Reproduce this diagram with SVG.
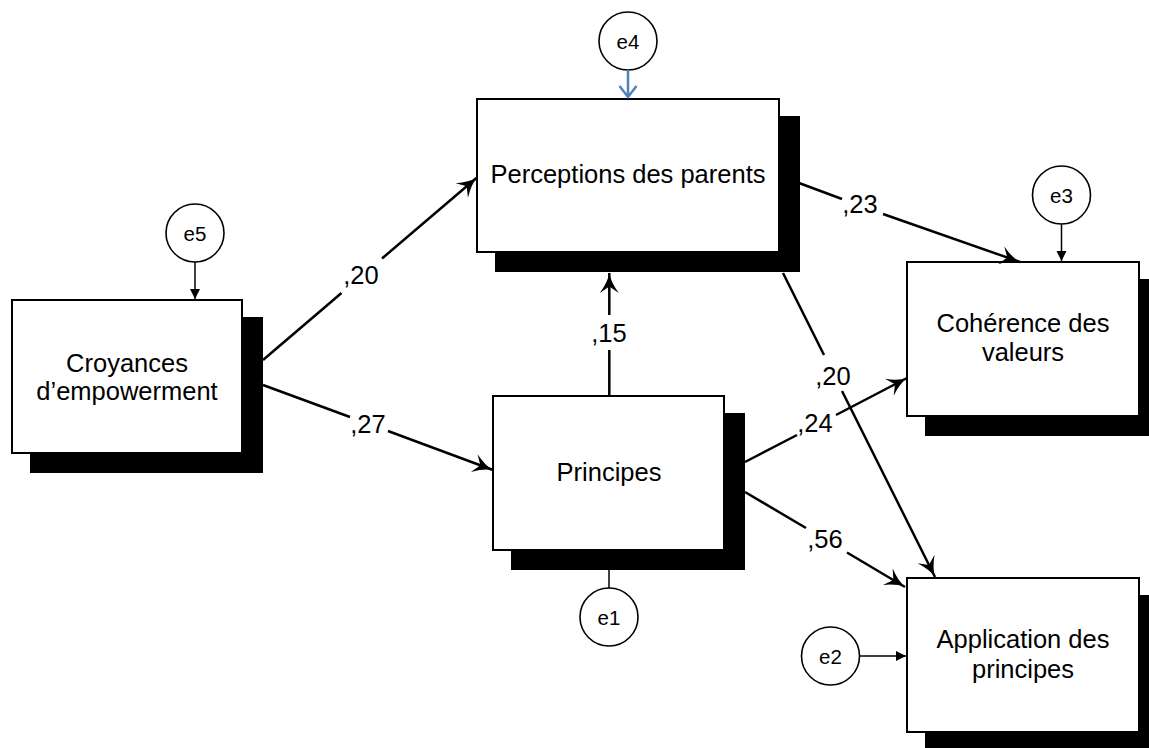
<svg xmlns="http://www.w3.org/2000/svg" width="1149" height="748" viewBox="0 0 1149 748">
<style>
.box{fill:#fff;stroke:#000;stroke-width:2}
.sh{fill:#000}
.lbl{font-family:"Liberation Sans",Arial,sans-serif;font-size:25.5px;fill:#000;text-anchor:middle}
.elbl{font-family:"Liberation Sans",Arial,sans-serif;font-size:20.5px;fill:#000;text-anchor:middle}
.err{fill:#fff;stroke:#000;stroke-width:1.6}
.con{fill:none;stroke:#000;stroke-width:2.5}
.econ{fill:none;stroke:#000;stroke-width:1.5}
</style>
<defs>
<marker id="ah" markerUnits="userSpaceOnUse" markerWidth="26" markerHeight="26" viewBox="-23 -13 26 26" refX="0" refY="0" orient="auto">
<path d="M0,0 Q-9,-1.5 -20,-9.5 L-13.5,0 L-20,9.5 Q-9,1.5 0,0 Z" fill="#000"/>
</marker>
<marker id="sa" markerUnits="userSpaceOnUse" markerWidth="14" markerHeight="14" viewBox="-12 -7 14 14" refX="0" refY="0" orient="auto">
<path d="M0,0 L-10,-5 L-10,5 Z" fill="#000"/>
</marker>
</defs>

<g id="node-croyances">
<rect class="sh" x="30" y="317" width="233" height="156"/>
<rect class="box" x="12" y="300" width="230" height="153"/>
<text class="lbl" x="127" y="372">Croyances</text>
<text class="lbl" x="127" y="400">d’empowerment</text>
</g>
<g id="node-perceptions">
<rect class="sh" x="495" y="116" width="305" height="156"/>
<rect class="box" x="477" y="99" width="302" height="153"/>
<text class="lbl" x="628" y="183">Perceptions des parents</text>
</g>
<g id="node-principes">
<rect class="sh" x="511" y="413" width="234" height="157"/>
<rect class="box" x="493" y="396" width="231" height="154"/>
<text class="lbl" x="609" y="481">Principes</text>
</g>
<g id="node-coherence">
<rect class="sh" x="925" y="279" width="235" height="157"/>
<rect class="box" x="907" y="262" width="232" height="154"/>
<text class="lbl" x="1023" y="332">Cohérence des</text>
<text class="lbl" x="1023" y="361">valeurs</text>
</g>
<g id="node-application">
<rect class="sh" x="925" y="595" width="235" height="157"/>
<rect class="box" x="907" y="578" width="232" height="154"/>
<text class="lbl" x="1023" y="648">Application des</text>
<text class="lbl" x="1023" y="678">principes</text>
</g>
<g id="node-e5">
<circle class="err" cx="195" cy="233" r="29"/>
<text class="elbl" x="195" y="240.5">e5</text>
</g>
<g id="node-e4">
<circle class="err" cx="628" cy="41" r="29"/>
<text class="elbl" x="628" y="48.5">e4</text>
</g>
<g id="node-e3">
<circle class="err" cx="1061.5" cy="195" r="29"/>
<text class="elbl" x="1061.5" y="202.5">e3</text>
</g>
<g id="node-e1">
<circle class="err" cx="609" cy="617" r="29"/>
<text class="elbl" x="609" y="624.5">e1</text>
</g>
<g id="node-e2">
<circle class="err" cx="830.5" cy="656" r="29"/>
<text class="elbl" x="830.5" y="663.5">e2</text>
</g>

<g id="connectors">
<!-- Croyances -> Perceptions ,20 -->
<path class="con" d="M263,360 L341.5,293"/>
<path class="con" d="M382,258.5 L477,177.5" marker-end="url(#ah)"/>
<text class="lbl" x="361" y="284">,20</text>
<!-- Croyances -> Principes ,27 -->
<path class="con" d="M263,385 L350,417"/>
<path class="con" d="M388,431 L493,470" marker-end="url(#ah)"/>
<text class="lbl" x="368" y="433">,27</text>
<!-- Principes -> Perceptions ,15 -->
<path class="con" d="M609.3,396 L609.3,350"/>
<path class="con" d="M609.3,315 L609.3,273" marker-end="url(#ah)"/>
<text class="lbl" x="609" y="342">,15</text>
<!-- Perceptions -> Coherence ,23 -->
<path class="con" d="M799,183 L842,199"/>
<path class="con" d="M883,214 L1020,262" marker-end="url(#ah)"/>
<text class="lbl" x="860" y="213">,23</text>
<!-- Perceptions -> Application ,20 -->
<path class="con" d="M783,273 L824,355"/>
<path class="con" d="M842,391 L935,577" marker-end="url(#ah)"/>
<text class="lbl" x="833" y="385">,20</text>
<!-- Principes -> Coherence ,24 -->
<path class="con" d="M745,462 L797,435"/>
<path class="con" d="M836,415 L907,378" marker-end="url(#ah)"/>
<text class="lbl" x="815" y="432">,24</text>
<!-- Principes -> Application ,56 -->
<path class="con" d="M745,492 L806,528"/>
<path class="con" d="M847,552.5 L905,587" marker-end="url(#ah)"/>
<text class="lbl" x="825" y="548">,56</text>
<!-- error terms -->
<path class="econ" d="M195,262 L195,299" marker-end="url(#sa)"/>
<path class="econ" d="M1061.5,224 L1061.5,261" marker-end="url(#sa)"/>
<path class="econ" d="M859.5,656 L906,656" marker-end="url(#sa)"/>
<path class="econ" d="M609,570 L609,588"/>
<path d="M628,70 L628,97 M619.5,86 L628,97 L636.5,86" fill="none" stroke="#4f81bd" stroke-width="2.5" stroke-linejoin="miter"/>
</g>
</svg>
